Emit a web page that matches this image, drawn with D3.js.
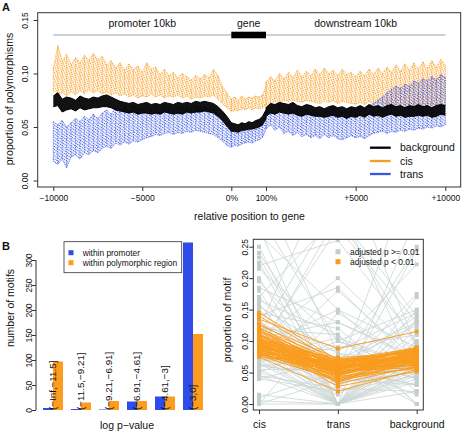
<!DOCTYPE html>
<html><head><meta charset="utf-8">
<script src="https://cdn.jsdelivr.net/npm/d3@7"></script>
<style>
body{margin:0;background:#fff}
svg{display:block}
text{font-family:"Liberation Sans",Arial,Helvetica,sans-serif;fill:#111}
</style>
</head><body>
<svg id="c" width="462" height="433"></svg>
<script>
// ---------------- DATA ----------------
// Panel A: position grids
const upstreamBp = d3.range(-10000, 1, 250);   // 41 positions
const genePct = d3.range(0, 101, 10);          // 11 positions
const downstreamBp = d3.range(0, 10001, 250);  // 41 positions

// cis (orange) band: upper / lower envelope
const cisUpHi = [0.105,0.126,0.112,0.118,0.108,0.115,0.110,0.117,0.112,0.119,0.113,0.116,0.108,0.112,0.105,0.110,0.103,0.109,0.104,0.107,0.101,0.110,0.104,0.106,0.099,0.104,0.098,0.101,0.096,0.100,0.097,0.094,0.098,0.095,0.099,0.096,0.104,0.098,0.088,0.082,0.076];
const cisUpLo = [0.084,0.080,0.082,0.079,0.083,0.080,0.084,0.081,0.085,0.082,0.084,0.081,0.083,0.080,0.082,0.079,0.081,0.078,0.080,0.077,0.079,0.078,0.081,0.078,0.080,0.077,0.079,0.078,0.080,0.077,0.079,0.076,0.078,0.077,0.079,0.078,0.080,0.076,0.072,0.068,0.065];
const cisGeneHi = [0.076,0.078,0.075,0.079,0.076,0.078,0.077,0.079,0.078,0.080,0.088];
const cisGeneLo = [0.064,0.066,0.065,0.067,0.066,0.068,0.066,0.068,0.067,0.068,0.070];
const cisDownHi = [0.092,0.097,0.093,0.100,0.095,0.101,0.096,0.103,0.097,0.102,0.098,0.104,0.099,0.105,0.100,0.103,0.098,0.104,0.099,0.101,0.097,0.102,0.098,0.104,0.099,0.105,0.100,0.106,0.101,0.108,0.102,0.109,0.103,0.110,0.104,0.111,0.105,0.112,0.106,0.113,0.108];
const cisDownLo = [0.068,0.072,0.074,0.073,0.075,0.074,0.075,0.074,0.073,0.075,0.074,0.073,0.072,0.074,0.073,0.075,0.072,0.074,0.073,0.072,0.071,0.073,0.071,0.074,0.072,0.073,0.071,0.072,0.070,0.072,0.070,0.071,0.069,0.071,0.070,0.072,0.069,0.071,0.070,0.072,0.070];

// background (black) band
const bgUpHi = [0.079,0.082,0.076,0.078,0.077,0.075,0.079,0.077,0.076,0.078,0.077,0.079,0.080,0.078,0.076,0.074,0.073,0.072,0.073,0.071,0.072,0.073,0.071,0.072,0.071,0.073,0.072,0.071,0.073,0.072,0.073,0.072,0.074,0.073,0.074,0.073,0.072,0.069,0.065,0.060,0.054];
const bgUpLo = [0.069,0.070,0.064,0.066,0.067,0.065,0.068,0.066,0.067,0.068,0.068,0.069,0.069,0.068,0.066,0.065,0.064,0.063,0.064,0.062,0.063,0.063,0.062,0.063,0.062,0.064,0.063,0.062,0.063,0.062,0.064,0.063,0.064,0.064,0.065,0.064,0.063,0.060,0.056,0.051,0.046];
const bgGeneHi = [0.054,0.053,0.052,0.054,0.053,0.055,0.054,0.056,0.057,0.060,0.066];
const bgGeneLo = [0.046,0.046,0.045,0.047,0.047,0.048,0.048,0.049,0.050,0.052,0.058];
const bgDownHi = [0.068,0.072,0.071,0.073,0.072,0.071,0.073,0.070,0.069,0.071,0.070,0.068,0.069,0.067,0.069,0.070,0.068,0.069,0.067,0.069,0.068,0.070,0.068,0.071,0.069,0.070,0.068,0.070,0.071,0.069,0.070,0.068,0.070,0.069,0.071,0.069,0.070,0.068,0.070,0.071,0.070];
const bgDownLo = [0.060,0.063,0.062,0.064,0.063,0.062,0.063,0.061,0.060,0.062,0.061,0.060,0.060,0.059,0.060,0.061,0.059,0.060,0.058,0.060,0.059,0.061,0.059,0.062,0.060,0.061,0.059,0.061,0.062,0.060,0.061,0.059,0.060,0.060,0.061,0.060,0.061,0.059,0.060,0.062,0.061];

// trans (blue) band
const trUpHi = [0.055,0.052,0.056,0.050,0.054,0.058,0.055,0.060,0.057,0.062,0.058,0.063,0.066,0.062,0.068,0.064,0.069,0.065,0.070,0.066,0.068,0.071,0.067,0.070,0.068,0.071,0.069,0.067,0.070,0.068,0.069,0.067,0.070,0.068,0.069,0.067,0.066,0.062,0.057,0.051,0.045];
const trUpLo = [0.018,0.015,0.020,0.012,0.022,0.024,0.020,0.026,0.024,0.028,0.026,0.030,0.032,0.030,0.035,0.033,0.036,0.034,0.037,0.036,0.038,0.040,0.041,0.043,0.042,0.044,0.045,0.043,0.045,0.044,0.046,0.045,0.047,0.046,0.045,0.044,0.043,0.040,0.037,0.033,0.031];
const trGeneHi = [0.045,0.047,0.044,0.046,0.045,0.047,0.046,0.048,0.049,0.052,0.060];
const trGeneLo = [0.031,0.033,0.032,0.034,0.035,0.036,0.035,0.037,0.038,0.040,0.048];
const trDownHi = [0.064,0.070,0.068,0.071,0.067,0.069,0.066,0.068,0.064,0.067,0.063,0.066,0.064,0.067,0.065,0.068,0.066,0.064,0.066,0.068,0.066,0.069,0.067,0.070,0.072,0.075,0.078,0.082,0.085,0.088,0.086,0.090,0.088,0.093,0.091,0.095,0.093,0.097,0.094,0.099,0.096];
const trDownLo = [0.048,0.052,0.047,0.050,0.044,0.046,0.042,0.045,0.041,0.043,0.040,0.042,0.039,0.043,0.040,0.042,0.039,0.038,0.040,0.042,0.040,0.041,0.039,0.042,0.044,0.045,0.046,0.044,0.046,0.045,0.047,0.046,0.048,0.047,0.049,0.048,0.050,0.049,0.051,0.050,0.052];

const aTickVals = [-10000, -5000, 0, 2000, 7000, 12000];
const aTickLabels = ["\u221210000", "\u22125000", "0%", "100%", "+5000", "+10000"];
const aYTicks = [0, 0.05, 0.10, 0.15];

// Panel B left
const binLabels = ["(\u2212Inf,\u221211.5]", "(\u221211.5,\u22129.21]", "(\u22129.21,\u22126.91]", "(\u22126.91,\u22124.61]", "(\u22124.61,\u22123]", "(\u22123,0]"];
const withinPromoter = [4, 2, 1, 17, 27, 335];
const withinPolymorphic = [97, 15, 18, 18, 27, 152];
const bYTicks = [0, 50, 100, 150, 200, 250, 300];

// Panel B right
const groupsR = ["cis", "trans", "background"];
const grayCis = [0.25,0.24,0.233,0.225,0.215,0.20,0.195,0.185,0.18,0.17,0.165,0.16,0.155,0.15,0.14,0.13,0.125,0.12,0.115,0.11,0.105,0.10,0.095,0.09,0.085,0.08,0.075,0.07,0.065,0.06,0.055,0.05,0.045,0.04,0.015,0.01,0.005,0,0,0,0.28,0.35,0.12,0.09,0.07,0.06,0.30,0.10,0.085,0.075,0.065,0.09,0.11,0.13,0.145,0.05,0.06,0.08,0.07,0.10,0.04,0.055,0.12,0.075,0.095,0.135,0.045,0.105,0.09,0.27,0.22,0.17];
const grayTrans = [0,0.05,0.02,0,0.10,0,0.06,0.13,0,0.04,0.11,0,0.08,0.03,0.185,0,0.09,0,0.05,0.32,0,0.20,0.02,0.15,0,0.30,0,0.06,0,0.18,0,0.10,0,0.07,0,0.05,0,0.145,0,0.04,0,0.08,0.40,0.28,0,0.05,0.10,0,0.06,0.04,0.03,0.035,0.045,0.07,0.12,0.015,0.075,0.03,0.09,0.065,0.02,0.055,0.11,0.105,0.085,0,0.025,0.13,0,0.15,0.26,0.30];
const grayBg = [0.08,0.25,0.06,0.12,0.05,0.15,0.03,0.07,0.10,0.175,0,0.09,0.04,0.13,0.06,0.07,0.222,0.02,0.14,0.05,0.11,0.08,0.245,0.04,0.06,0.09,0.135,0.015,0.05,0.07,0.035,0.15,0.08,0,0.05,0.06,0.04,0.065,0.10,0.03,0.06,0.07,0.09,0.13,0.30,0.38,0.06,0.045,0.055,0.06,0.07,0.05,0.075,0.13,0.02,0.085,0.04,0.095,0.11,0.125,0.045,0.03,0,0.06,0.145,0.055,0.02,0.075,0.17,0.09,0.10,0.14];
const orCis = [0.145,0.140,0.135,0.128,0.125,0.122,0.120,0.118,0.116,0.114,0.112,0.110,0.109,0.108,0.106,0.105,0.104,0.103,0.102,0.101,0.100,0.099,0.098,0.097,0.096,0.095,0.094,0.093,0.092,0.091,0.090,0.089,0.088,0.087,0.086,0.085,0.084,0.083,0.082,0.081,0.080,0.079,0.078,0.077,0.076,0.075,0.112,0.098,0.090,0.104,0.095,0.086,0.118,0.082,0.100,0.093,0.107,0.089,0.079,0.097];
const orTrans = [0.070,0.065,0.088,0.060,0.072,0.055,0.068,0.050,0.064,0.058,0.045,0.066,0.052,0.061,0.040,0.057,0.070,0.048,0.063,0.054,0.059,0.036,0.066,0.050,0.061,0.044,0.056,0.067,0.053,0.060,0.047,0.064,0.055,0.042,0.058,0.062,0.049,0.035,0.057,0.065,0.051,0.046,0.060,0.038,0.053,0.020,0.032,0.028,0.070,0.064,0.074,0.044,0.060,0.040,0.052,0.058,0.069,0.037,0.055,0.047];
const orBg = [0.085,0.075,0.115,0.080,0.070,0.090,0.078,0.065,0.086,0.072,0.082,0.076,0.068,0.088,0.074,0.080,0.066,0.079,0.071,0.084,0.069,0.077,0.083,0.063,0.075,0.081,0.070,0.087,0.067,0.078,0.073,0.065,0.082,0.071,0.076,0.060,0.079,0.068,0.074,0.085,0.062,0.072,0.066,0.058,0.077,0.055,0.060,0.052,0.089,0.090,0.080,0.056,0.088,0.064,0.058,0.062,0.084,0.070,0.081,0.086];
const rYTicks = [0, 0.05, 0.10, 0.15, 0.20, 0.25];

// ---------------- DRAW ----------------
const ORANGE = "#f99b1c", BLUE = "#3a56e4", BARBLUE = "#2f4ce8", BARORANGE = "#fd9c1e";
const GRAYL = "#cbd4d4", GRAYP = "#c3cdcd";
const svg = d3.select("#c");
const defs = svg.append("defs");

function hatch(id, color, angle, sp, sw, dash) {
  const p = defs.append("pattern").attr("id", id).attr("patternUnits", "userSpaceOnUse")
    .attr("width", sp).attr("height", 6).attr("patternTransform", `rotate(${angle})`);
  p.append("line").attr("x1", sp/2).attr("y1", 0).attr("x2", sp/2).attr("y2", 6)
    .attr("stroke", color).attr("stroke-width", sw).attr("stroke-dasharray", dash);
}
hatch("hO", ORANGE, -20, 2.3, 0.9, "1.1 1");
hatch("hB", BLUE, -55, 2.5, 0.9, "1.1 1");

// ---- Panel A ----
const xA = d3.scaleLinear().domain([-10000, 0, 2000, 12000]).range([53.3, 231.3, 266, 445.3]);
const yA = d3.scaleLinear().domain([0, 0.15]).range([180.5, 20]);
const boxA = {x: 37.7, y: 12.7, w: 423, h: 174.3};

defs.append("clipPath").attr("id", "clipA").append("rect")
  .attr("x", boxA.x).attr("y", boxA.y).attr("width", boxA.w).attr("height", boxA.h);

function series(up, gene, down) {
  return [
    ...upstreamBp.map((p, i) => ({x: p, lo: up[0][i], hi: up[1][i]})),
    ...genePct.map((p, i) => ({x: p * 20, lo: gene[0][i], hi: gene[1][i]})),
    ...downstreamBp.map((p, i) => ({x: 2000 + p, lo: down[0][i], hi: down[1][i]}))
  ];
}
const sCis = series([cisUpLo, cisUpHi], [cisGeneLo, cisGeneHi], [cisDownLo, cisDownHi]);
const sBg = series([bgUpLo, bgUpHi], [bgGeneLo, bgGeneHi], [bgDownLo, bgDownHi]);
const sTr = series([trUpLo, trUpHi], [trGeneLo, trGeneHi], [trDownLo, trDownHi]);

const area = d3.area().x(d => xA(d.x)).y0(d => yA(d.lo)).y1(d => yA(d.hi));
const lineHi = d3.line().x(d => xA(d.x)).y(d => yA(d.hi));
const lineLo = d3.line().x(d => xA(d.x)).y(d => yA(d.lo));

const gA = svg.append("g").attr("clip-path", "url(#clipA)");
function drawBand(data, color, pat, op, sw) {
  gA.append("path").datum(data).attr("d", area).attr("fill", color).attr("fill-opacity", op);
  if (pat) {
    gA.append("path").datum(data).attr("d", area).attr("fill", `url(#${pat})`);
    // dotted vertical range at each position
    gA.selectAll(null).data(data).join("line")
      .attr("x1", d => xA(d.x)).attr("x2", d => xA(d.x))
      .attr("y1", d => yA(d.hi)).attr("y2", d => yA(d.lo))
      .attr("stroke", color).attr("stroke-width", 0.9).attr("stroke-dasharray", "1 1.2");
  }
  const dash = pat ? "1 1" : null;
  [lineHi, lineLo].forEach(l => gA.append("path").datum(data).attr("d", l).attr("fill", "none")
    .attr("stroke", color).attr("stroke-width", sw).attr("stroke-dasharray", dash));
}
drawBand(sCis, ORANGE, "hO", 0.08, 0.8);
drawBand(sTr, BLUE, "hB", 0.08, 0.8);
drawBand(sBg, "#000", null, 0.93, 1.0);

svg.append("rect").attr("x", boxA.x).attr("y", boxA.y).attr("width", boxA.w).attr("height", boxA.h)
  .attr("fill", "none").attr("stroke", "#333").attr("stroke-width", 1);

// header track
svg.append("line").attr("x1", xA(-10000)).attr("x2", xA(12000)).attr("y1", 35).attr("y2", 35)
  .attr("stroke", "#c8d2d2").attr("stroke-width", 2.2);
svg.append("rect").attr("x", xA(0)).attr("y", 31.7).attr("width", xA(2000) - xA(0)).attr("height", 6.6).attr("fill", "#000");
[["promoter 10kb", -5000], ["gene", 1000], ["downstream 10kb", 7000]].forEach(([t, v]) => {
  svg.append("text").attr("x", xA(v)).attr("y", 27.3).attr("text-anchor", "middle")
    .attr("font-size", 10.5).text(t);
});

// axes A
const axA = svg.append("g").attr("transform", `translate(0,${boxA.y + boxA.h})`)
  .call(d3.axisBottom(xA).tickValues(aTickVals).tickFormat((d, i) => aTickLabels[i]).tickSize(4).tickPadding(4));
axA.select(".domain").remove();
axA.selectAll("line").attr("stroke", "#333");
axA.selectAll("text").attr("font-size", 8.5).attr("font-family", "Liberation Sans, Arial, sans-serif").attr("fill", "#111");

const ayA = svg.append("g").attr("transform", `translate(${boxA.x},0)`)
  .call(d3.axisLeft(yA).tickValues(aYTicks).tickFormat(d3.format(".2f")).tickSize(4));
ayA.select(".domain").remove();
ayA.selectAll("line").attr("stroke", "#333");
ayA.selectAll("text").attr("font-size", 8.5).attr("font-family", "Liberation Sans, Arial, sans-serif").attr("fill", "#111")
  .attr("transform", "rotate(-90)").attr("x", 0).attr("y", -9.4).attr("dy", 0).attr("text-anchor", "middle");

svg.append("text").attr("transform", "translate(13,99) rotate(-90)").attr("text-anchor", "middle")
  .attr("font-size", 10.5).text("proportion of polymorphisms");
svg.append("text").attr("x", 249.5).attr("y", 220).attr("text-anchor", "middle")
  .attr("font-size", 10.5).text("relative position to gene");
svg.append("text").attr("x", 2).attr("y", 10.5).attr("font-size", 11).attr("font-weight", "bold").text("A");

// legend A
[["background", "#000", 147.7], ["cis", ORANGE, 161], ["trans", BLUE, 174]].forEach(([t, c, y]) => {
  svg.append("line").attr("x1", 370).attr("x2", 390.7).attr("y1", y).attr("y2", y).attr("stroke", c).attr("stroke-width", 2.3);
  svg.append("text").attr("x", 400).attr("y", y + 3.7).attr("font-size", 10.5).text(t);
});

// ---- Panel B left ----
svg.append("text").attr("x", 2).attr("y", 249.5).attr("font-size", 11).attr("font-weight", "bold").text("B");
const yB = d3.scaleLinear().domain([0, 300]).range([410, 260]);
const xB = d3.scaleBand().domain(binLabels).range([39, 207]).paddingInner(8 / 28).paddingOuter(4 / 28);
const xSub = d3.scaleBand().domain(["p", "m"]).range([0, xB.bandwidth()]);
const gB = svg.append("g");
binLabels.forEach((lab, i) => {
  gB.append("rect").attr("x", xB(lab) + xSub("p")).attr("width", xSub.bandwidth())
    .attr("y", yB(withinPromoter[i])).attr("height", yB(0) - yB(withinPromoter[i])).attr("fill", BARBLUE);
  gB.append("rect").attr("x", xB(lab) + xSub("m")).attr("width", xSub.bandwidth())
    .attr("y", yB(withinPolymorphic[i])).attr("height", yB(0) - yB(withinPolymorphic[i])).attr("fill", BARORANGE);
  gB.append("text").attr("transform", `translate(${xB(lab) + xSub("m") + 3},410) rotate(-90)`)
    .attr("font-size", 9.8).attr("text-anchor", "start").text(lab);
});
const ayB = svg.append("g").attr("transform", "translate(36,0)")
  .call(d3.axisLeft(yB).tickValues(bYTicks).tickSize(4));
ayB.select(".domain").attr("d", `M0,${yB(0)}V${yB(300)}`).attr("stroke", "#333");
ayB.selectAll("line").attr("stroke", "#333");
ayB.selectAll("text").attr("font-size", 8.5).attr("font-family", "Liberation Sans, Arial, sans-serif").attr("fill", "#111")
  .attr("transform", "rotate(-90)").attr("x", 0).attr("y", -4.3).attr("dy", 0).attr("text-anchor", "middle");
svg.append("text").attr("transform", "translate(13.5,308) rotate(-90)").attr("text-anchor", "middle")
  .attr("font-size", 10.5).text("number of motifs");
svg.append("text").attr("x", 127).attr("y", 428.5).attr("text-anchor", "middle")
  .attr("font-size", 10.5).text("log p\u2212value");

// legend B left
svg.append("rect").attr("x", 64).attr("y", 241.7).attr("width", 117.7).attr("height", 31)
  .attr("fill", "#fff").attr("stroke", "#333").attr("stroke-width", 0.8);
[["within promoter", BARBLUE, 252.7], ["within polymorphic region", BARORANGE, 262.7]].forEach(([t, c, y]) => {
  svg.append("rect").attr("x", 68.5).attr("y", y - 2.5).attr("width", 5).attr("height", 5).attr("fill", c);
  svg.append("text").attr("x", 82.7).attr("y", y + 3).attr("font-size", 8.4).text(t);
});

// ---- Panel B right ----
const xR = d3.scalePoint().domain(groupsR).range([259, 416.7]);
const yR = d3.scaleLinear().domain([0, 0.25]).range([404, 246.7]);
const boxR = {x: 253.3, y: 239.3, w: 170, h: 170.7};
defs.append("clipPath").attr("id", "clipR").append("rect")
  .attr("x", boxR.x).attr("y", boxR.y).attr("width", boxR.w).attr("height", boxR.h);
const gR = svg.append("g").attr("clip-path", "url(#clipR)");
const lineR = d3.line().x(d => xR(d.g)).y(d => yR(d.v));
const sq = d3.symbol(d3.symbolSquare, 15);

const grayRows = grayCis.map((v, i) => [{g: "cis", v}, {g: "trans", v: grayTrans[i]}, {g: "background", v: grayBg[i]}]);
const orRows = orCis.map((v, i) => [{g: "cis", v}, {g: "trans", v: orTrans[i]}, {g: "background", v: orBg[i]}]);

gR.selectAll(".gl").data(grayRows).join("path").attr("d", lineR).attr("fill", "none")
  .attr("stroke", GRAYL).attr("stroke-width", 0.8);
gR.selectAll(".gp").data(grayRows.flat()).join("path").attr("d", sq)
  .attr("transform", d => `translate(${xR(d.g)},${yR(d.v)})`).attr("fill", GRAYP);
gR.selectAll(".ol").data(orRows).join("path").attr("d", lineR).attr("fill", "none")
  .attr("stroke", ORANGE).attr("stroke-width", 0.9);
gR.selectAll(".op").data(orRows.flat()).join("path").attr("d", sq)
  .attr("transform", d => `translate(${xR(d.g)},${yR(d.v)})`).attr("fill", ORANGE);

svg.append("rect").attr("x", boxR.x).attr("y", boxR.y).attr("width", boxR.w).attr("height", boxR.h)
  .attr("fill", "none").attr("stroke", "#333").attr("stroke-width", 1);

const axR = svg.append("g").attr("transform", `translate(0,${boxR.y + boxR.h})`)
  .call(d3.axisBottom(xR).tickSize(4).tickPadding(7));
axR.select(".domain").remove();
axR.selectAll("line").attr("stroke", "#333");
axR.selectAll("text").attr("font-size", 10.5).attr("font-family", "Liberation Sans, Arial, sans-serif").attr("fill", "#111");

const ayR = svg.append("g").attr("transform", `translate(${boxR.x},0)`)
  .call(d3.axisLeft(yR).tickValues(rYTicks).tickFormat(d3.format(".2f")).tickSize(4));
ayR.select(".domain").remove();
ayR.selectAll("line").attr("stroke", "#333");
ayR.selectAll("text").attr("font-size", 8.5).attr("font-family", "Liberation Sans, Arial, sans-serif").attr("fill", "#111")
  .attr("transform", "rotate(-90)").attr("x", 0).attr("y", -5).attr("dy", 0).attr("text-anchor", "middle");
svg.append("text").attr("transform", "translate(231,320) rotate(-90)").attr("text-anchor", "middle")
  .attr("font-size", 10.5).text("proportion of motif");

// legend B right
[["adjusted p >= 0.01", GRAYP, 251.7], ["adjusted p < 0.01", ORANGE, 261.7]].forEach(([t, c, y]) => {
  svg.append("rect").attr("x", 335.5).attr("y", y - 2.5).attr("width", 5).attr("height", 5).attr("fill", c);
  svg.append("text").attr("x", 350).attr("y", y + 3).attr("font-size", 8.4).text(t);
});
</script>
</body></html>
